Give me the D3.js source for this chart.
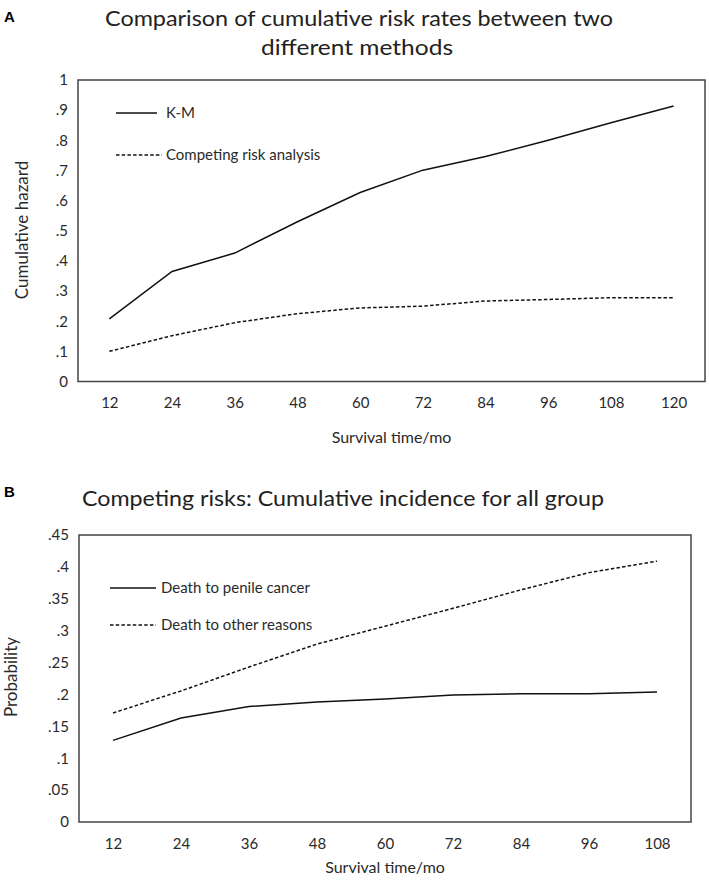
<!DOCTYPE html>
<html><head><meta charset="utf-8">
<script src="https://cdn.jsdelivr.net/npm/d3@7"></script>
<style>
html,body{margin:0;padding:0;background:#fff;}
svg{display:block;font-family:Lato,"Open Sans",sans-serif;}
</style></head>
<body><svg id="c" width="709" height="882"></svg>
<script>
// ---- Panel A data ----
const monthsA = ["12","24","36","48","60","72","84","96","108","120"];
const kmA = [0.208,0.365,0.426,0.53,0.627,0.701,0.746,0.800,0.858,0.914];
const crA = [0.100,0.152,0.195,0.225,0.244,0.250,0.267,0.272,0.278,0.278];
const yTicksA = [0,0.1,0.2,0.3,0.4,0.5,0.6,0.7,0.8,0.9,1];
// ---- Panel B data ----
const monthsB = ["12","24","36","48","60","72","84","96","108"];
const penileB = [0.128,0.163,0.181,0.188,0.193,0.199,0.201,0.201,0.204];
const otherB = [0.171,0.2055,0.243,0.279,0.307,0.335,0.364,0.391,0.409];
const yTicksB = [0,0.05,0.1,0.15,0.2,0.25,0.3,0.35,0.4,0.45];

const svg = d3.select("#c");
const fmt = v => v === 0 ? "0" : v === 1 ? "1" : d3.format(".2~f")(v).replace(/^0\./, ".");
const textCol = "#2a2a2a";

function panel(o){
  const x = d3.scalePoint().domain(o.cats).range([o.left,o.right]).padding(0.5);
  const y = d3.scaleLinear().domain(o.ydom).range([o.bottom,o.top]);
  const g = svg.append("g");
  const ya = g.append("g").attr("transform",`translate(${o.left},0)`)
    .call(d3.axisLeft(y).tickValues(o.yticks).tickSize(0).tickPadding(10).tickFormat(fmt));
  ya.select(".domain").remove();
  ya.selectAll("text").attr("font-size",15).attr("fill",textCol).attr("font-family","Lato");
  const xa = g.append("g").attr("transform",`translate(0,${o.bottom})`)
    .call(d3.axisBottom(x).tickSize(0).tickPadding(16));
  xa.select(".domain").remove();
  xa.selectAll("text").attr("font-size",15).attr("fill",textCol).attr("font-family","Lato");
  g.append("rect").attr("x",o.left).attr("y",o.top)
    .attr("width",o.right-o.left).attr("height",o.bottom-o.top)
    .attr("fill","none").attr("stroke","#444").attr("stroke-width",1.5);
  const line = d3.line().x((d,i)=>x(o.cats[i])).y(d=>y(d));
  g.append("path").datum(o.s1).attr("d",line).attr("fill","none")
    .attr("stroke","#111").attr("stroke-width",1.5);
  g.append("path").datum(o.s2).attr("d",line).attr("fill","none")
    .attr("stroke","#111").attr("stroke-width",1.5).attr("stroke-dasharray","3.5,2.2");
  o.legend.forEach((L,i)=>{
    g.append("line").attr("x1",L.x1).attr("x2",L.x2).attr("y1",L.y).attr("y2",L.y)
      .attr("stroke","#111").attr("stroke-width",1.4)
      .attr("stroke-dasharray",L.dash?"3.5,2.2":null);
    g.append("text").attr("x",L.tx).attr("y",L.y).attr("dy","0.35em")
      .attr("font-size",15).attr("fill",textCol).text(L.label);
  });
  g.append("text").attr("x",(o.left+o.right)/2).attr("y",o.xtitleY).attr("dy","0.35em")
    .attr("text-anchor","middle").attr("font-size",16).attr("fill",textCol).text(o.xtitle);
  g.append("text").attr("transform",`translate(${o.ytitleX},${o.ytitleY}) rotate(-90)`)
    .attr("dy","0.35em").attr("text-anchor","middle").attr("font-size",o.ytitleSize)
    .attr("fill",textCol).text(o.ytitle);
}

// Panel A
svg.append("text").attr("x",4).attr("y",17).attr("dy","0.35em").attr("font-family","Liberation Sans, Arial")
  .attr("font-weight","bold").attr("font-size",15).text("A");
svg.append("text").attr("x",359).attr("y",18).attr("dy","0.35em").attr("text-anchor","middle")
  .attr("font-size",22).attr("fill","#222").attr("textLength",508).attr("lengthAdjust","spacingAndGlyphs")
  .text("Comparison of cumulative risk rates between two");
svg.append("text").attr("x",357).attr("y",47).attr("dy","0.35em").attr("text-anchor","middle")
  .attr("font-size",22).attr("fill","#222").attr("textLength",192).attr("lengthAdjust","spacingAndGlyphs")
  .text("different methods");

panel({cats:monthsA, ydom:[0,1], yticks:yTicksA, left:78, right:705, top:80, bottom:381.5,
  s1:kmA, s2:crA,
  legend:[{x1:116,x2:157,y:113,tx:166,label:"K-M"},
          {x1:116,x2:162,y:155,tx:166,label:"Competing risk analysis",dash:true}],
  xtitle:"Survival time/mo", xtitleY:437, ytitle:"Cumulative hazard", ytitleX:22, ytitleY:230, ytitleSize:17});

// Panel B
svg.append("text").attr("x",4).attr("y",492).attr("dy","0.35em").attr("font-family","Liberation Sans, Arial")
  .attr("font-weight","bold").attr("font-size",15).text("B");
svg.append("text").attr("x",82).attr("y",498).attr("dy","0.35em")
  .attr("font-size",22).attr("fill","#222").attr("textLength",522).attr("lengthAdjust","spacingAndGlyphs")
  .text("Competing risks: Cumulative incidence for all group");

panel({cats:monthsB, ydom:[0,0.45], yticks:yTicksB, left:79, right:691, top:535, bottom:822,
  s1:penileB, s2:otherB,
  legend:[{x1:110,x2:156,y:588,tx:161,label:"Death to penile cancer"},
          {x1:110,x2:156,y:625,tx:161,label:"Death to other reasons",dash:true}],
  xtitle:"Survival time/mo", xtitleY:867, ytitle:"Probability", ytitleX:11, ytitleY:677, ytitleSize:17});
</script></body></html>
